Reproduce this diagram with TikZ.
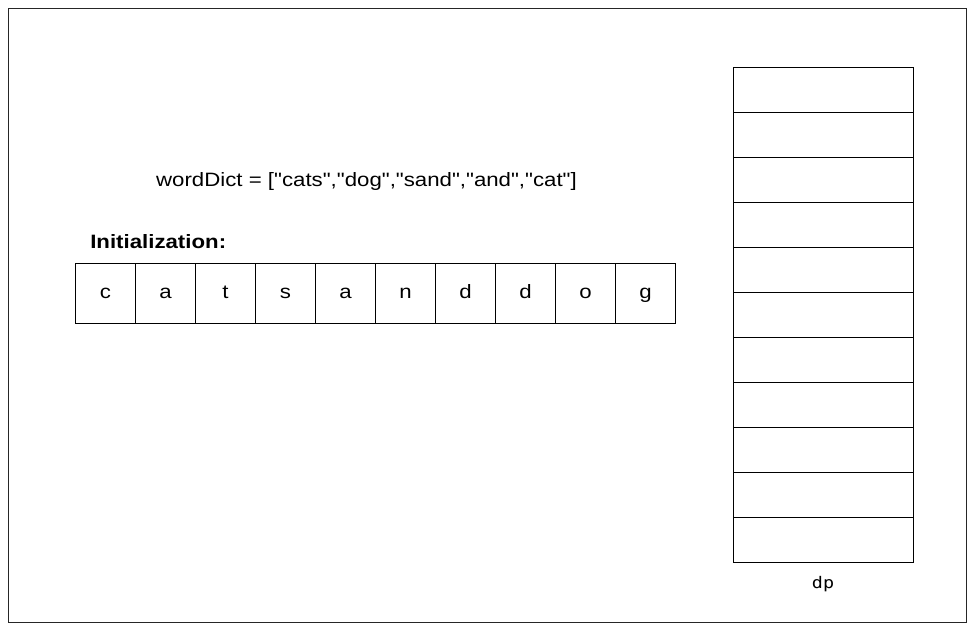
\documentclass[tikz,border=0pt]{standalone}
\usepackage{fontspec}
\setmainfont[FakeStretch=1.15,Ligatures=TeXOff]{Liberation Sans}
\newfontfamily\dpmono[FakeStretch=1.15]{DejaVu Sans Mono}
\begin{document}
\begin{tikzpicture}[x=0.75pt,y=-0.75pt,
  txt/.style={font=\fontsize{14.5}{17}\selectfont,inner sep=0pt},
  cell/.style={txt,draw=black,line width=0.8pt,minimum width=45pt,minimum height=45pt,text height=10.5pt,text depth=3pt,anchor=north west},
  dpcell/.style={draw=black,line width=0.8pt,minimum width=135pt,minimum height=33.75pt,inner sep=0pt,anchor=north west}]
\useasboundingbox (0,0) rectangle (975,630);
\node[draw=black!85,line width=1.1pt,minimum width=718.5pt,minimum height=460.5pt,inner sep=0pt,anchor=north west] (frame) at (8,8) {};
\node[txt] (dict) at (366.5,182) {wordDict = ["cats","dog","sand","and","cat"]};
\node[txt,anchor=west,font=\fontsize{14.5}{17}\selectfont\bfseries] (init) at (90,242) {Initialization:};
\foreach \c [count=\i from 0] in {c,a,t,s,a,n,d,d,o,g} {
  \node[cell] (s\i) at ({75+60*\i},263) {\c};
}
\foreach \i in {0,...,10} {
  \node[dpcell] (dp\i) at (733,{67+45*\i}) {};
}
\node[inner sep=0pt,font=\fontsize{12}{14}\selectfont\dpmono] (dplabel) at (823,584) {dp};
\end{tikzpicture}
\end{document}
